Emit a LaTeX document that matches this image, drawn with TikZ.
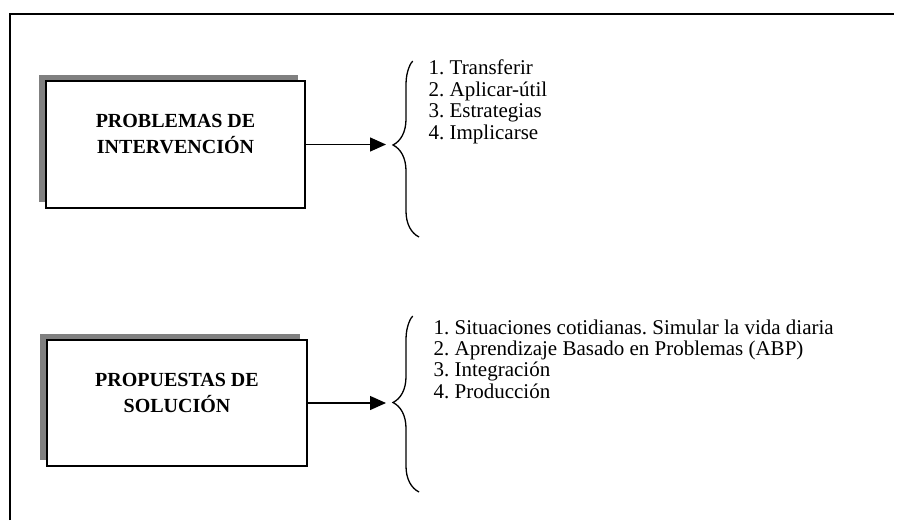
\documentclass[tikz,border=0pt]{standalone}
\usepackage{fontspec}
\setmainfont{Liberation Serif}
\usetikzlibrary{arrows.meta,shadows,decorations.pathreplacing}
\frenchspacing

\begin{document}
\begin{tikzpicture}[x=1pt,y=1pt,>={Triangle[length=16pt,width=14pt]},shorten >=7pt,
                    line width=1.3pt]
  \tikzstyle{box}=[draw,line width=1.8pt,fill=white,minimum width=259pt,minimum height=127pt,inner sep=0pt,
                   drop shadow={shadow xshift=-7pt,shadow yshift=6pt,fill=black!50,opacity=1}]
  \tikzstyle{boxtext}=[align=center,inner sep=0pt,font=\fontsize{20}{26}\selectfont\bfseries]
  \tikzstyle{item}=[anchor=base west,inner sep=0pt,font=\fontsize{21}{24}\selectfont]
  \tikzstyle{curly}=[decorate,decoration={brace,amplitude=26pt}]

  \useasboundingbox (0,0) rectangle (901,520);
  \draw[line width=2pt] (9.5,0) -- (9.5,506) -- (901,506);

  % first block
  \node[box] (probA) at (175.5,375.5) {};
  \node[boxtext] (probAtext) at ([yshift=10pt]probA.center) {PROBLEMAS DE\\INTERVENCIÓN};
  \coordinate (braceAbot) at (419,283);
  \coordinate (braceAtop) at (419,462);
  \coordinate (tipA) at (393,375);
  \draw[curly,decoration={aspect=0.514}] (braceAbot) -- (braceAtop);
  \draw[->] (probA.east) -- (probA.east -| tipA);

  \node[item] (a1) at (428,445)                      {1. Transferir};
  \node[item] (a2) at ([yshift=-21.4pt]a1.base west) {2. Aplicar-útil};
  \node[item] (a3) at ([yshift=-21.4pt]a2.base west) {3. Estrategias};
  \node[item] (a4) at ([yshift=-21.4pt]a3.base west) {4. Implicarse};

  % second block
  \node[box,minimum width=260pt,minimum height=126pt] (propB) at (177,117) {};
  \node[boxtext] (propBtext) at ([yshift=10pt]propB.center) {PROPUESTAS DE\\SOLUCIÓN};
  \coordinate (braceBbot) at (419,28);
  \coordinate (braceBtop) at (419,207);
  \coordinate (tipB) at (393,117);
  \draw[curly] (braceBbot) -- (braceBtop);
  \draw[->] (propB.east) -- (propB.east -| tipB);

  \node[item] (b1) at (433,186)                      {1. Situaciones cotidianas. Simular la vida diaria};
  \node[item] (b2) at ([yshift=-21.4pt]b1.base west) {2. Aprendizaje Basado en Problemas (ABP)};
  \node[item] (b3) at ([yshift=-21.4pt]b2.base west) {3. Integración};
  \node[item] (b4) at ([yshift=-21.4pt]b3.base west) {4. Producción};
\end{tikzpicture}
\end{document}
